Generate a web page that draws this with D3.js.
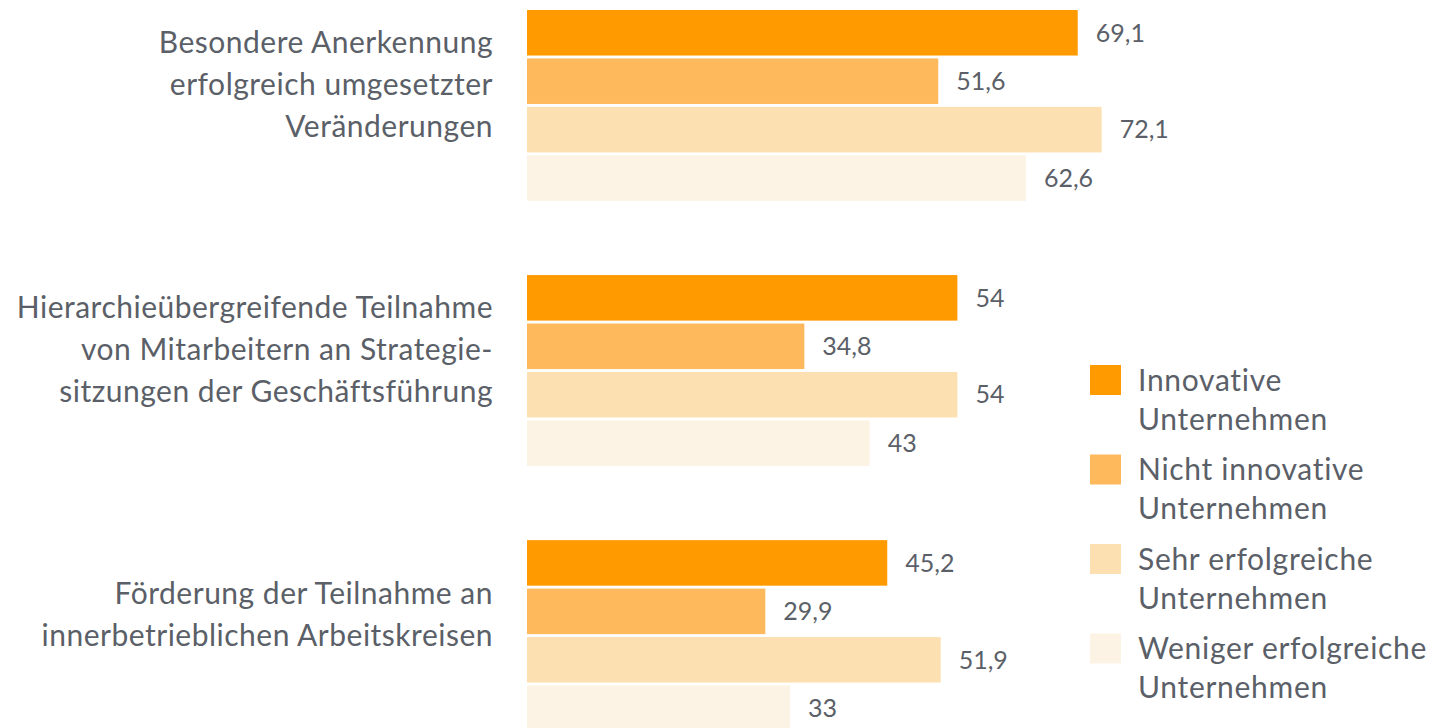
<!DOCTYPE html>
<html>
<head>
<meta charset="utf-8">
<script src="https://cdn.jsdelivr.net/npm/d3@7"></script>
<style>
	body { margin: 0; background: #fff; }
	text { font-family: Lato, "Open Sans", sans-serif; fill: #5b5f68; }
</style>
</head>
<body>
<div class="canvas"></div>
<script>
// categories (label lines)
const categories = ['anerkennung', 'teilnahme', 'foerderung'];
const categoryLines = [
	['Besondere Anerkennung', 'erfolgreich umgesetzter', 'Veränderungen'],
	['Hierarchieübergreifende Teilnahme', 'von Mitarbeitern an Strategie-', 'sitzungen der Geschäftsführung'],
	['Förderung der Teilnahme an', 'innerbetrieblichen Arbeitskreisen']
];

// series
const seriesNames = ['Innovative Unternehmen', 'Nicht innovative Unternehmen', 'Sehr erfolgreiche Unternehmen', 'Weniger erfolgreiche Unternehmen'];
const seriesLines = [
	['Innovative', 'Unternehmen'],
	['Nicht innovative', 'Unternehmen'],
	['Sehr erfolgreiche', 'Unternehmen'],
	['Weniger erfolgreiche', 'Unternehmen']
];
const innovative = [69.1, 54, 45.2];
const nichtInnovative = [51.6, 34.8, 29.9];
const sehrErfolgreich = [72.1, 54, 51.9];
const wenigerErfolgreich = [62.6, 43, 33];
const seriesColours = ['#ff9a00', '#fdb95c', '#fde0b2', '#fdf3e4'];

const dims = {height: 728, width: 1432};

const svg = d3.select('.canvas')
	.append('svg')
	.attr('width', dims.width)
	.attr('height', dims.height);

const allValues = [innovative, nichtInnovative, sehrErfolgreich, wenigerErfolgreich];

// scales
const x = d3.scaleLinear()
	.domain([0, 80])
	.range([527, 527 + 80 * 7.97]);

const y0 = d3.scaleBand()
	.domain(categories)
	.range([10, 731])
	.paddingInner(0.28);

const y1 = d3.scaleBand()
	.domain(seriesNames)
	.range([0, y0.bandwidth()])
	.paddingInner(0.06);

const colour = d3.scaleOrdinal()
	.domain(seriesNames)
	.range(seriesColours);

// flatten data
const data = [];
categories.forEach((c, i) => {
	seriesNames.forEach((s, j) => {
		data.push({category: c, series: s, value: allValues[j][i]});
	});
});

const fmt = v => String(v).replace('.', ',');

// bars
svg.selectAll('.bar')
	.data(data)
	.enter()
	.append('rect')
		.attr('class', 'bar')
		.attr('x', x(0))
		.attr('y', d => y0(d.category) + y1(d.series))
		.attr('width', d => x(d.value) - x(0))
		.attr('height', y1.bandwidth())
		.attr('fill', d => colour(d.series));

// value labels
svg.selectAll('.value')
	.data(data)
	.enter()
	.append('text')
		.attr('class', 'value')
		.attr('x', d => x(d.value) + 18)
		.attr('y', d => y0(d.category) + y1(d.series) + y1.bandwidth() / 2)
		.attr('dy', '0.35em')
		.attr('font-size', 25)
		.text(d => fmt(d.value));

// category labels
const lineH = 42;
categories.forEach((c, i) => {
	const lines = categoryLines[i];
	const centre = y0(c) + y0.bandwidth() / 2 - 21;
	const top = centre - (lines.length - 1) * lineH / 2;
	svg.append('text')
		.attr('class', 'cat-label')
		.attr('text-anchor', 'end')
		.attr('font-size', 30)
		.attr('letter-spacing', 0.5)
		.selectAll('tspan')
		.data(lines)
		.enter()
		.append('tspan')
			.attr('x', 493)
			.attr('y', (d, k) => top + k * lineH)
			.attr('dy', '0.35em')
			.text(d => d);
});

// legend
const legend = svg.append('g')
	.attr('transform', 'translate(1090, 380)');

const legendItems = legend.selectAll('.legend-item')
	.data(seriesNames)
	.enter()
	.append('g')
		.attr('class', 'legend-item')
		.attr('transform', (d, i) => `translate(0, ${i * 89.5})`);

legendItems.append('rect')
	.attr('x', 0)
	.attr('y', -15)
	.attr('width', 31)
	.attr('height', 30)
	.attr('fill', d => colour(d));

legendItems.append('text')
	.attr('font-size', 30)
	.attr('letter-spacing', 0.7)
	.selectAll('tspan')
	.data((d, i) => seriesLines[i])
	.enter()
	.append('tspan')
		.attr('x', 48)
		.attr('y', (d, k) => k * 39)
		.attr('dy', '0.35em')
		.text(d => d);
</script>
</body>
</html>
